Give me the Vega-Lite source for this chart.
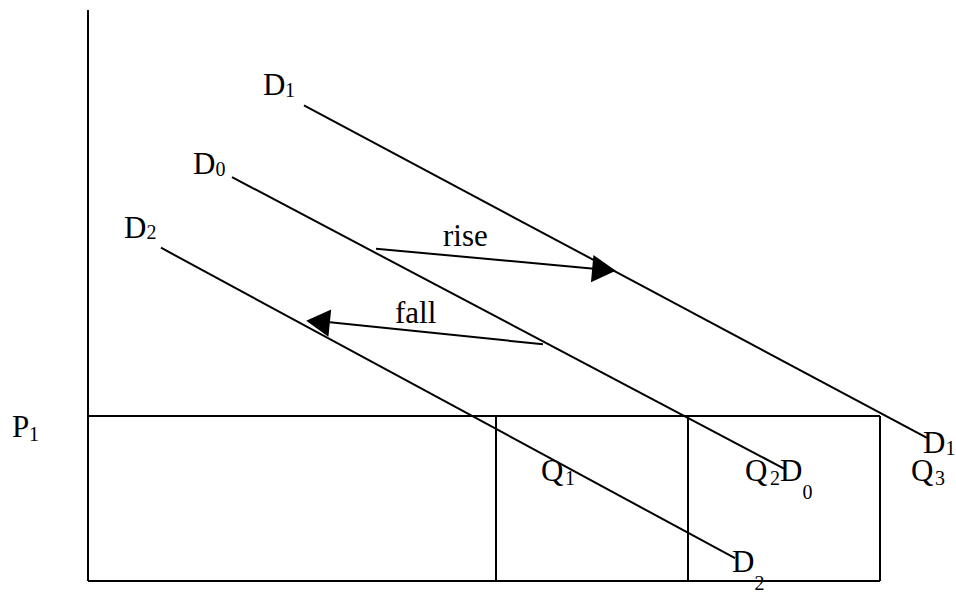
{
  "$schema": "https://vega.github.io/schema/vega-lite/v6.json",
  "width": 956,
  "height": 594,
  "autosize": {"type": "fit", "contains": "padding"},
  "padding": 0,
  "background": "white",
  "config": {"view": {"stroke": null}},
  "datasets": {
    "segments": [
      {"name": "price axis", "x": 88, "y": 10, "x2": 88, "y2": 584},
      {"name": "quantity axis", "x": 88, "y": 584, "x2": 880, "y2": 584},
      {"name": "P1 level", "x": 88, "y": 418, "x2": 880, "y2": 418},
      {"name": "Q1 drop", "x": 496, "y": 418, "x2": 496, "y2": 584},
      {"name": "Q2 drop", "x": 688, "y": 418, "x2": 688, "y2": 584},
      {"name": "Q3 drop", "x": 880, "y": 418, "x2": 880, "y2": 584},
      {"name": "D1", "x": 304, "y": 106, "x2": 927, "y2": 440},
      {"name": "D0", "x": 232, "y": 178, "x2": 784, "y2": 471},
      {"name": "D2", "x": 161, "y": 249, "x2": 735, "y2": 561},
      {"name": "rise shaft", "x": 376, "y": 250, "x2": 594, "y2": 270},
      {"name": "fall shaft", "x": 543, "y": 346, "x2": 330, "y2": 324}
    ],
    "rightHeads": [{"name": "rise", "x": 604, "y": 271}],
    "leftHeads": [{"name": "fall", "x": 318, "y": 323.5}],
    "labels": [
      {"text": "D", "x": 263, "y": 95},
      {"text": "D", "x": 193, "y": 175},
      {"text": "D", "x": 124, "y": 239},
      {"text": "rise", "x": 443, "y": 247},
      {"text": "fall", "x": 395, "y": 325},
      {"text": "P", "x": 12, "y": 439},
      {"text": "Q", "x": 541, "y": 483},
      {"text": "Q", "x": 745, "y": 483},
      {"text": "D", "x": 780, "y": 483},
      {"text": "D", "x": 923, "y": 455},
      {"text": "Q", "x": 911, "y": 483},
      {"text": "D", "x": 732, "y": 575}
    ],
    "subscripts": [
      {"text": "1", "x": 285, "y": 97},
      {"text": "0", "x": 215.5, "y": 177},
      {"text": "2", "x": 146.5, "y": 240},
      {"text": "1", "x": 29, "y": 443},
      {"text": "1", "x": 565, "y": 487},
      {"text": "2", "x": 770, "y": 487},
      {"text": "0", "x": 802.5, "y": 502},
      {"text": "1", "x": 945.5, "y": 457},
      {"text": "3", "x": 935, "y": 487},
      {"text": "2", "x": 754.5, "y": 593}
    ]
  },
  "layer": [
    {
      "data": {"name": "segments"},
      "mark": {"type": "rule", "stroke": "black", "strokeWidth": 2},
      "encoding": {
        "x": {"field": "x", "type": "quantitative", "scale": {"domain": [0, 956], "nice": false, "zero": false}, "axis": null},
        "y": {"field": "y", "type": "quantitative", "scale": {"domain": [0, 594], "nice": false, "zero": false, "reverse": true}, "axis": null},
        "x2": {"field": "x2"},
        "y2": {"field": "y2"}
      }
    },
    {
      "data": {"name": "rightHeads"},
      "mark": {"type": "point", "shape": "triangle-right", "filled": true, "color": "black", "opacity": 1, "size": 750, "angle": 5.3},
      "encoding": {
        "x": {"field": "x", "type": "quantitative"},
        "y": {"field": "y", "type": "quantitative"}
      }
    },
    {
      "data": {"name": "leftHeads"},
      "mark": {"type": "point", "shape": "triangle-left", "filled": true, "color": "black", "opacity": 1, "size": 750, "angle": 5.8},
      "encoding": {
        "x": {"field": "x", "type": "quantitative"},
        "y": {"field": "y", "type": "quantitative"}
      }
    },
    {
      "data": {"name": "labels"},
      "mark": {"type": "text", "font": "Liberation Serif", "fontSize": 31, "align": "left", "baseline": "alphabetic", "color": "black"},
      "encoding": {
        "x": {"field": "x", "type": "quantitative"},
        "y": {"field": "y", "type": "quantitative"},
        "text": {"field": "text"}
      }
    },
    {
      "data": {"name": "subscripts"},
      "mark": {"type": "text", "font": "Liberation Serif", "fontSize": 20, "align": "left", "baseline": "alphabetic", "color": "black"},
      "encoding": {
        "x": {"field": "x", "type": "quantitative"},
        "y": {"field": "y", "type": "quantitative"},
        "text": {"field": "text"}
      }
    }
  ]
}
